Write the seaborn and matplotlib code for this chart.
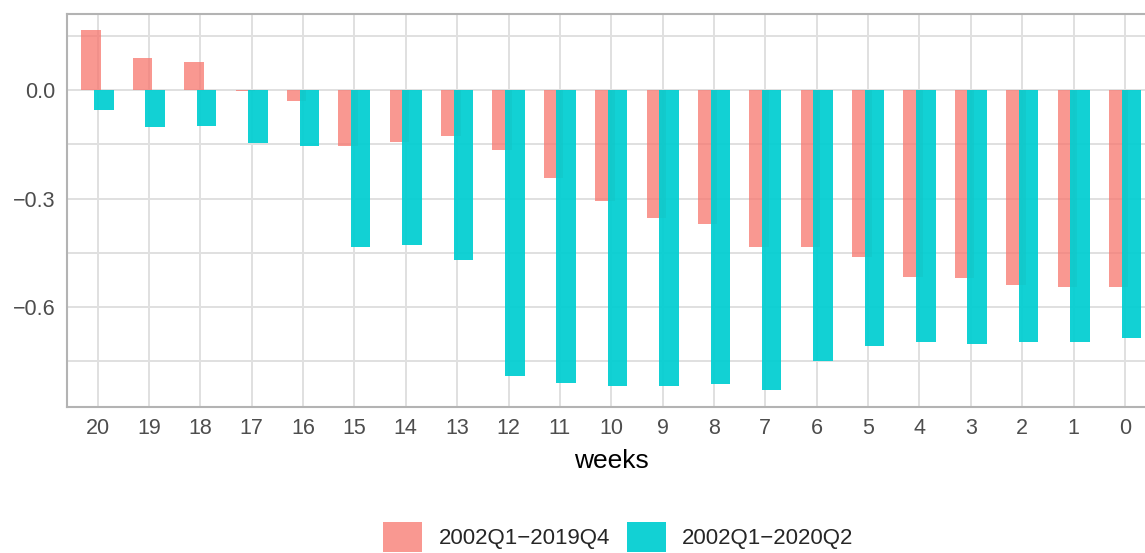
import matplotlib
matplotlib.use("Agg")
import matplotlib.pyplot as plt
import matplotlib.patches as mpatches
import seaborn as sns
import pandas as pd

weeks = ["20", "19", "18", "17", "16", "15", "14", "13", "12", "11", "10",
         "9", "8", "7", "6", "5", "4", "3", "2", "1", "0"]
series_names = ["2002Q1\u22122019Q4", "2002Q1\u22122020Q2"]
vals_2019 = [0.165, 0.088, 0.076, -0.003, -0.030, -0.155, -0.143, -0.126,
             -0.167, -0.242, -0.308, -0.353, -0.369, -0.435, -0.433, -0.462,
             -0.517, -0.519, -0.539, -0.543, -0.545]
vals_2020 = [-0.054, -0.102, -0.100, -0.146, -0.154, -0.433, -0.427, -0.470,
             -0.790, -0.810, -0.818, -0.818, -0.811, -0.829, -0.749, -0.707,
             -0.696, -0.701, -0.696, -0.696, -0.684]
y_ticks = [0.0, -0.3, -0.6]
y_tick_labels = ["0.0", "\u22120.3", "\u22120.6"]
y_minor = [0.15, -0.15, -0.45, -0.75]

colors = ["#F8766D", "#00CED1"]
alphas = [0.75, 0.93]

df = pd.DataFrame({
    "weeks": weeks * 2,
    "value": vals_2019 + vals_2020,
    "period": [series_names[0]] * len(weeks) + [series_names[1]] * len(weeks),
})

sns.set_style("white")
plt.rcParams["font.family"] = ["Liberation Sans", "DejaVu Sans"]

W, H = 1145, 553
fig = plt.figure(figsize=(W / 100, H / 100), dpi=100)
left, right, top, bottom = 66.7, 1155.8, 14.0, 406.7
ax = fig.add_axes([left / W, 1 - bottom / H, (right - left) / W, (bottom - top) / H])

sns.barplot(data=df, x="weeks", y="value", hue="period", order=weeks,
            hue_order=series_names, palette=colors, width=0.492, dodge=True,
            saturation=1, legend=False, ax=ax, zorder=3)

bar_w = 0.38
for cont, a, c in zip(ax.containers, alphas, colors):
    for p in cont.patches:
        cx = p.get_x() + p.get_width() / 2
        p.set_width(bar_w)
        p.set_x(cx - bar_w / 2)
        p.set_facecolor(matplotlib.colors.to_rgba(c, a))
        p.set_edgecolor("none")
        p.set_linewidth(0)

ax.set_xlim(-0.6, len(weeks) - 1 + 0.6)
ax.set_ylim(-0.875, 0.21)
ax.set_yticks(y_ticks)
ax.set_yticklabels(y_tick_labels)
ax.set_yticks(y_minor, minor=True)

grid_c = "#E0E0E0"
ax.set_axisbelow(True)
ax.grid(True, which="major", color=grid_c, linewidth=1.4)
ax.grid(True, which="minor", axis="y", color=grid_c, linewidth=1.4)
ax.tick_params(axis="both", which="major", colors="#B3B3B3", length=5, width=1.3,
               labelcolor="#4D4D4D", labelsize=15.5, pad=3)
ax.tick_params(axis="y", which="minor", length=0)
for s in ax.spines.values():
    s.set_visible(True)
    s.set_color("#B3B3B3")
    s.set_linewidth(1.5)

ax.set_xlabel("weeks", fontsize=19, color="black", labelpad=7)
ax.set_ylabel("")

handles = [mpatches.Patch(facecolor=matplotlib.colors.to_rgba(c, a), edgecolor="none")
           for c, a in zip(colors, alphas)]
fig.legend(handles, series_names, loc="center", bbox_to_anchor=(618.5 / W, 1 - 537 / H),
           ncol=2, frameon=False, fontsize=16, handlelength=1.76, handleheight=1.75,
           handletextpad=0.75, columnspacing=0.72, borderpad=0)

fig.savefig("out.png", dpi=100)
